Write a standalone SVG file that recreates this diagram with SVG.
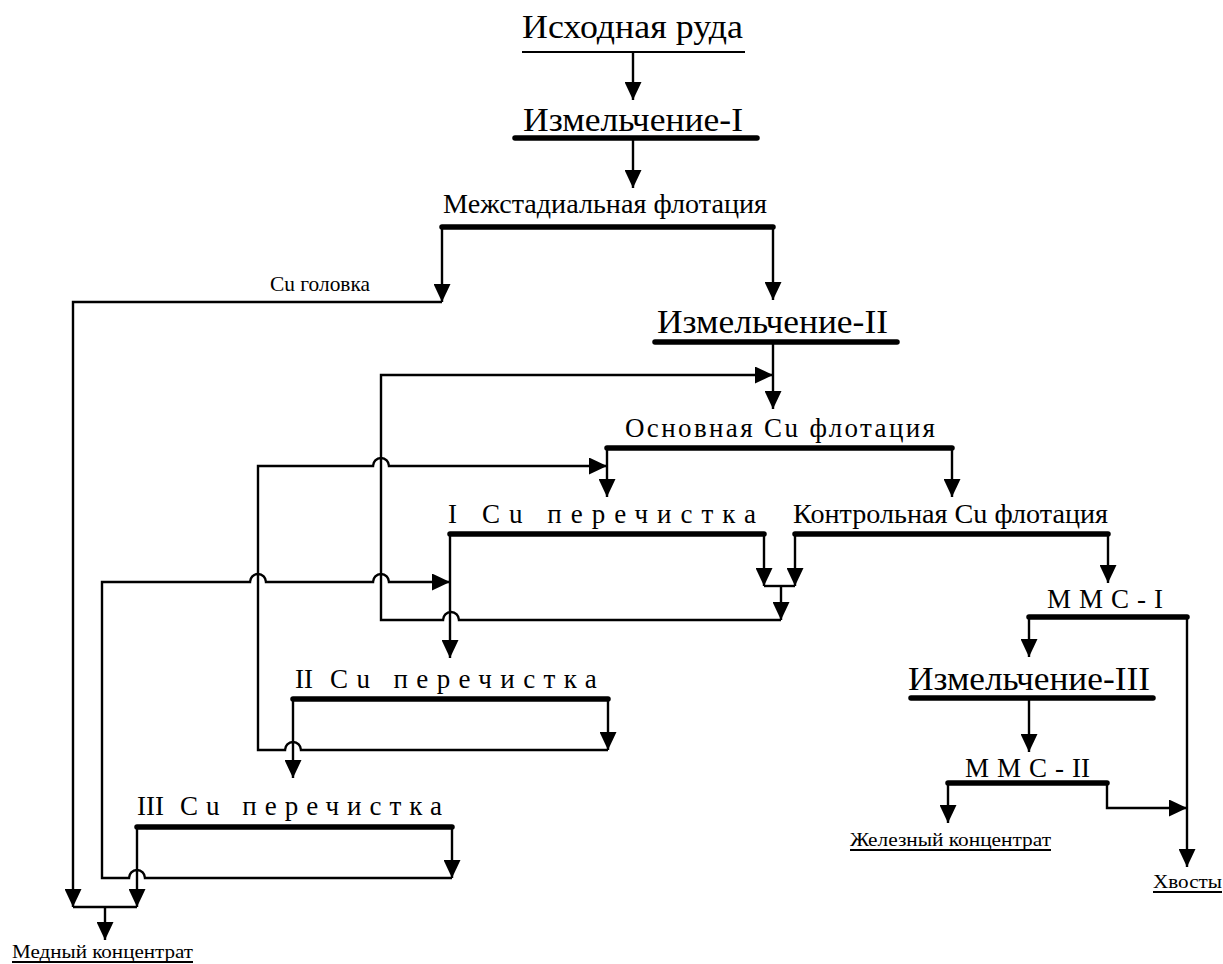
<svg xmlns="http://www.w3.org/2000/svg" width="1223" height="964" viewBox="0 0 1223 964">
<style>
text{font-family:"Liberation Serif","Times New Roman",serif;fill:#000}
.bar{stroke:#000;stroke-width:5.5;stroke-linecap:round;fill:none}
.ul{stroke:#000;stroke-width:2.2;fill:none}
.c{stroke:#000;stroke-width:2.4;fill:none}
.a{marker-end:url(#ah)}
.big{font-size:34px}
.mid{font-size:27px}
.sm{font-size:21px}
.prod{font-size:19px}
</style>
<defs>
<marker id="ah" markerUnits="userSpaceOnUse" viewBox="0 0 18 17" markerWidth="18" markerHeight="17" refX="18" refY="8.5" orient="auto">
<path d="M0,0 L18,8.5 L0,17 Z" fill="#000"/>
</marker>
</defs>
<rect width="1223" height="964" fill="#fff"/>

<g id="node-ore">
<text class="big" x="522" y="38" textLength="221" lengthAdjust="spacingAndGlyphs">Исходная руда</text>
<line class="ul" x1="522" y1="52" x2="745" y2="52"/>
</g>
<g id="node-grind1">
<text class="big" x="523" y="131" textLength="220" lengthAdjust="spacingAndGlyphs">Измельчение-I</text>
<line class="bar" x1="515" y1="138" x2="757" y2="138"/>
</g>
<g id="node-interstage">
<text class="mid" x="443" y="213" textLength="324" lengthAdjust="spacingAndGlyphs">Межстадиальная флотация</text>
<line class="bar" x1="442" y1="227" x2="773" y2="227"/>
</g>
<g id="label-cu-head">
<text class="sm" x="270" y="291" textLength="100" lengthAdjust="spacingAndGlyphs">Cu головка</text>
</g>
<g id="node-grind2">
<text class="big" x="657" y="333" textLength="231" lengthAdjust="spacingAndGlyphs">Измельчение-II</text>
<line class="bar" x1="655" y1="342" x2="897" y2="342"/>
</g>
<g id="node-main-flot">
<text class="mid" x="625" y="437" textLength="310" lengthAdjust="spacing">Основная Cu флотация</text>
<line class="bar" x1="607" y1="448" x2="952" y2="448"/>
</g>
<g id="node-clean1">
<text class="mid" x="448" y="523">I <tspan x="482" letter-spacing="9">Cu перечистка</tspan></text>
<line class="bar" x1="450" y1="534" x2="764" y2="534"/>
</g>
<g id="node-scav">
<text class="mid" x="793" y="523" textLength="315" lengthAdjust="spacingAndGlyphs">Контрольная Cu флотация</text>
<line class="bar" x1="795" y1="534" x2="1108" y2="534"/>
</g>
<g id="node-clean2">
<text class="mid" x="295" y="688">II <tspan x="330" letter-spacing="8.4">Cu перечистка</tspan></text>
<line class="bar" x1="293" y1="699" x2="608" y2="699"/>
</g>
<g id="node-clean3">
<text class="mid" x="137" y="815">III <tspan x="180" letter-spacing="8">Cu перечистка</tspan></text>
<line class="bar" x1="137" y1="827" x2="452" y2="827"/>
</g>
<g id="node-wms1">
<text class="mid" x="1047" y="608" letter-spacing="8">ММС-<tspan letter-spacing="0">I</tspan></text>
<line class="bar" x1="1029" y1="617" x2="1187" y2="617"/>
</g>
<g id="node-grind3">
<text class="big" x="908" y="690" textLength="242" lengthAdjust="spacingAndGlyphs">Измельчение-III</text>
<line class="bar" x1="911" y1="698" x2="1153" y2="698"/>
</g>
<g id="node-wms2">
<text class="mid" x="965" y="777" letter-spacing="8">ММС-<tspan letter-spacing="0">II</tspan></text>
<line class="bar" x1="948" y1="783" x2="1107" y2="783"/>
</g>
<g id="node-fe-conc">
<text class="prod" x="850" y="846" textLength="201" lengthAdjust="spacingAndGlyphs">Железный концентрат</text>
<line class="ul" x1="850" y1="850" x2="1051" y2="850"/>
</g>
<g id="node-tails">
<text class="prod" x="1153" y="888" textLength="69" lengthAdjust="spacingAndGlyphs">Хвосты</text>
<line class="ul" x1="1153" y1="892" x2="1222" y2="892"/>
</g>
<g id="node-cu-conc">
<text class="prod" x="12" y="958" textLength="181" lengthAdjust="spacingAndGlyphs">Медный концентрат</text>
<line class="ul" x1="12" y1="962" x2="193" y2="962"/>
</g>

<g id="connectors">
<path class="c a" d="M633,52 V100"/>
<path class="c a" d="M633,138 V188"/>
<path class="c a" d="M442,227 V302"/>
<path class="c a" d="M442,302 H73 V907"/>
<path class="c a" d="M773,227 V300"/>
<path class="c a" d="M773,342 V409"/>
<path class="c a" d="M781,620 H459 A8,8 0 0 0 443,620 H381 V375 H773"/>
<path class="c a" d="M607,448 V497"/>
<path class="c a" d="M952,448 V497"/>
<path class="c a" d="M608,750 H301 A8,8 0 0 0 285,750 H258 V466 H373 A8,8 0 0 1 389,466 H607"/>
<path class="c a" d="M452,878 H145 A8,8 0 0 0 129,878 H102 V582 H250 A8,8 0 0 1 266,582 H373 A8,8 0 0 1 389,582 H450"/>
<path class="c a" d="M764,534 V586"/>
<path class="c a" d="M795,534 V586"/>
<path class="c" d="M764,586 H795"/>
<path class="c a" d="M781,586 V620"/>
<path class="c a" d="M450,534 V658"/>
<path class="c a" d="M608,699 V750"/>
<path class="c a" d="M293,699 V778"/>
<path class="c a" d="M452,827 V878"/>
<path class="c a" d="M137,827 V907"/>
<path class="c" d="M73,907 H137"/>
<path class="c a" d="M105,907 V940"/>
<path class="c a" d="M1108,534 V583"/>
<path class="c a" d="M1029,617 V657"/>
<path class="c a" d="M1187,617 V867"/>
<path class="c a" d="M1029,698 V752"/>
<path class="c a" d="M948,783 V823"/>
<path class="c a" d="M1107,783 V808 H1187"/>
</g>
</svg>
